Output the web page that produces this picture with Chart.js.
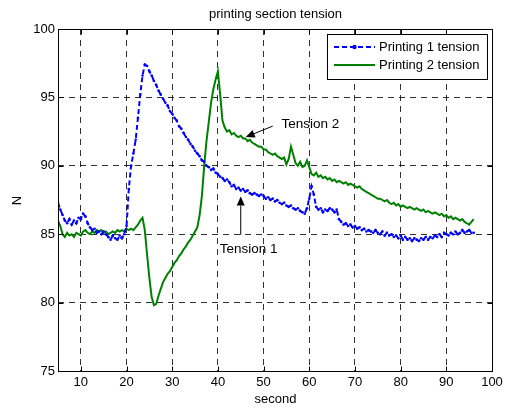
<!DOCTYPE html>
<html>
<head>
<meta charset="utf-8">
<script src="https://cdn.jsdelivr.net/npm/chart.js@4.4.1/dist/chart.umd.min.js"></script>
<style>
  html, body { margin: 0; padding: 0; background: #fff; }
  canvas { display: block; }
</style>
</head>
<body>
<canvas id="c" width="508" height="408"></canvas>
<script>
const FONT = '"Liberation Sans", Arial, sans-serif';

const chartTitle = 'printing section tension';
const xTitle = 'second';
const yTitle = 'N';
const seriesNames = ['Printing 1 tension', 'Printing 2 tension'];

const xTicks = [10, 20, 30, 40, 50, 60, 70, 80, 90, 100];
const yTicks = [75, 80, 85, 90, 95, 100];

const seconds = [
  5,5.5,6,6.5,7,7.5,8,8.5,9,9.5,
  10,10.5,11,11.5,12,12.5,13,13.5,14,14.5,
  15,15.5,16,16.5,17,17.5,18,18.5,19,19.5,
  20,20.5,21,21.5,22,22.5,23,23.5,24,24.5,
  25,25.5,26,26.5,27,27.5,28,28.5,29,29.5,
  30,30.5,31,31.5,32,32.5,33,33.5,34,34.5,
  35,35.5,36,36.5,37,37.5,38,38.5,39,39.5,
  40,40.5,41,41.5,42,42.5,43,43.5,44,44.5,
  45,45.5,46,46.5,47,47.5,48,48.5,49,49.5,
  50,50.5,51,51.5,52,52.5,53,53.5,54,54.5,
  55,55.5,56,56.5,57,57.5,58,58.5,59,59.5,
  60,60.5,61,61.5,62,62.5,63,63.5,64,64.5,
  65,65.5,66,66.5,67,67.5,68,68.5,69,69.5,
  70,70.5,71,71.5,72,72.5,73,73.5,74,74.5,
  75,75.5,76,76.5,77,77.5,78,78.5,79,79.5,
  80,80.5,81,81.5,82,82.5,83,83.5,84,84.5,
  85,85.5,86,86.5,87,87.5,88,88.5,89,89.5,
  90,90.5,91,91.5,92,92.5,93,93.5,94,94.5,
  95,95.5,96
];

const tension1 = [
  87.3,86.8,86.4,86.0,85.8,86.1,85.7,86.0,85.8,86.2,
  86.1,86.5,86.3,85.8,85.5,85.3,85.4,85.1,85.2,85.0,
  85.2,85.0,84.8,84.6,84.9,84.7,84.6,84.9,84.7,85.0,
  85.6,88.3,90.0,90.9,91.9,93.5,95.2,96.6,97.4,97.3,
  96.9,96.6,96.2,95.9,95.5,95.2,94.9,94.6,94.4,94.0,
  93.8,93.5,93.3,92.9,92.7,92.4,92.1,91.9,91.6,91.4,
  91.1,90.9,90.7,90.4,90.3,90.0,89.9,89.7,89.8,89.5,
  89.4,89.2,89.1,88.9,89.0,88.8,88.5,88.6,88.3,88.4,
  88.2,88.3,88.1,88.2,88.0,87.9,88.0,87.9,87.8,87.9,
  87.8,87.6,87.7,87.5,87.6,87.4,87.5,87.3,87.2,87.3,
  87.1,87.0,87.1,86.9,86.8,86.9,86.7,86.6,86.5,86.9,
  87.6,88.5,87.9,87.0,86.8,86.9,86.6,86.8,86.7,86.9,
  86.8,86.6,86.8,86.1,85.9,85.7,85.8,85.6,85.7,85.5,
  85.6,85.4,85.5,85.3,85.4,85.2,85.3,85.2,85.1,85.3,
  85.1,85.0,85.2,84.9,85.1,84.9,85.0,84.8,84.9,84.7,
  84.9,84.6,84.8,84.6,84.7,84.5,84.7,84.6,84.5,84.7,
  84.6,84.8,84.6,84.8,84.7,84.9,84.8,85.0,84.8,85.1,
  85.0,84.9,85.1,85.0,85.2,85.0,85.1,85.3,85.1,85.2,
  85.3,85.1,85.1
];

const tension2 = [
  86.0,85.6,85.0,84.8,85.1,84.9,85.0,84.8,85.1,85.0,
  84.9,85.2,85.3,85.1,85.0,85.2,85.1,85.3,85.2,85.3,
  85.1,85.2,85.0,85.1,85.2,85.1,85.3,85.2,85.3,85.2,
  85.4,85.3,85.4,85.3,85.5,85.7,86.0,86.2,85.3,83.5,
  81.8,80.4,79.8,79.9,80.5,81.0,81.5,81.8,82.1,82.3,
  82.6,82.9,83.1,83.4,83.6,83.9,84.1,84.4,84.6,84.9,
  85.2,85.5,86.4,87.8,90.0,91.8,93.2,94.6,95.6,96.3,
  96.9,95.2,93.3,92.8,92.5,92.6,92.3,92.4,92.2,92.1,
  92.2,92.0,92.0,91.8,91.9,91.7,91.6,91.5,91.4,91.4,
  91.2,91.2,91.0,90.9,90.8,90.9,90.7,90.6,90.5,90.6,
  90.1,90.5,91.4,90.8,90.2,90.0,90.3,89.9,90.0,90.4,
  89.9,89.4,89.3,89.5,89.2,89.3,89.1,89.2,89.0,89.1,
  88.9,89.0,88.8,88.9,88.8,88.7,88.8,88.6,88.7,88.6,
  88.5,88.4,88.5,88.3,88.2,88.1,88.0,87.9,87.8,87.7,
  87.6,87.6,87.5,87.4,87.5,87.3,87.2,87.3,87.1,87.2,
  87.0,87.1,87.0,86.9,87.0,86.9,86.8,86.9,86.8,86.7,
  86.8,86.6,86.7,86.6,86.5,86.6,86.5,86.4,86.5,86.3,
  86.4,86.2,86.3,86.1,86.2,86.1,86.0,86.1,85.9,85.8,
  85.7,85.9,86.1
];

// annotations: [label, textX, textY, arrowFromX, arrowFromY, arrowToX, arrowToY] (data units)
const annotations = [
  ['Tension 2', 53.9, 93.0, 52.0, 92.9, 46.1, 92.1],
  ['Tension 1', 40.4, 83.9, 45.0, 84.95, 45.0, 87.75]
];

const BLUE = '#0000ff';
const GREEN = '#008000';

function toPts(ys) { return seconds.map((s, i) => ({ x: s, y: ys[i] })); }

function arrow(ctx, x1, y1, x2, y2) {
  const ang = Math.atan2(y2 - y1, x2 - x1);
  const hl = 9, hw = 4;
  const bx = x2 - hl * Math.cos(ang), by = y2 - hl * Math.sin(ang);
  ctx.beginPath();
  ctx.moveTo(x1, y1);
  ctx.lineTo(bx, by);
  ctx.stroke();
  ctx.beginPath();
  ctx.moveTo(x2, y2);
  ctx.lineTo(bx + hw * Math.sin(ang), by - hw * Math.cos(ang));
  ctx.lineTo(bx - hw * Math.sin(ang), by + hw * Math.cos(ang));
  ctx.closePath();
  ctx.fill();
}

const decor = {
  id: 'decor',
  afterDraw(chart) {
    const ctx = chart.ctx, ca = chart.chartArea;
    const xs = chart.scales.x, ys = chart.scales.y;
    const L = Math.round(ca.left) + 0.5, R = Math.round(ca.right) + 0.5;
    const T = Math.round(ca.top) + 0.5, B = Math.round(ca.bottom) + 0.5;
    ctx.save();
    ctx.strokeStyle = '#000';
    ctx.fillStyle = '#000';
    ctx.lineWidth = 1;
    ctx.setLineDash([]);
    // inward ticks
    ctx.beginPath();
    xTicks.forEach(v => {
      const px = Math.round(xs.getPixelForValue(v)) + 0.5;
      ctx.moveTo(px, B); ctx.lineTo(px, B - 5);
      ctx.moveTo(px, T); ctx.lineTo(px, T + 5);
    });
    yTicks.forEach(v => {
      const py = Math.round(ys.getPixelForValue(v)) + 0.5;
      ctx.moveTo(L, py); ctx.lineTo(L + 5, py);
      ctx.moveTo(R, py); ctx.lineTo(R - 5, py);
    });
    ctx.stroke();
    // frame
    ctx.strokeRect(L, T, R - L, B - T);

    ctx.font = '13px ' + FONT;
    ctx.textBaseline = 'middle';
    // title
    ctx.textAlign = 'center';
    ctx.fillText(chartTitle, (L + R) / 2, 14);
    ctx.fillText(xTitle, (L + R) / 2, 399);
    ctx.save();
    ctx.translate(17, (T + B) / 2);
    ctx.rotate(-Math.PI / 2);
    ctx.fillText(yTitle, 0, 0);
    ctx.restore();

    // legend
    const lx = 327.5, ly = 34.5, lw = 160, lh = 45;
    ctx.fillStyle = '#fff';
    ctx.fillRect(lx, ly, lw, lh);
    ctx.strokeStyle = '#000';
    ctx.strokeRect(lx, ly, lw, lh);
    const rows = [47, 65];
    chart.data.datasets.forEach((ds, i) => {
      const y = rows[i];
      ctx.strokeStyle = ds.borderColor;
      ctx.lineWidth = 2;
      ctx.setLineDash(ds.borderDash || []);
      ctx.beginPath();
      ctx.moveTo(334, y); ctx.lineTo(375, y);
      ctx.stroke();
      ctx.setLineDash([]);
      if (ds.pointRadius > 0) {
        ctx.fillStyle = ds.borderColor;
        ctx.beginPath();
        ctx.arc(354.5, y, 2.2, 0, Math.PI * 2);
        ctx.fill();
      }
      ctx.fillStyle = '#000';
      ctx.textAlign = 'left';
      ctx.fillText(ds.label, 379, y);
    });

    // annotations
    ctx.lineWidth = 1;
    ctx.strokeStyle = '#000';
    ctx.fillStyle = '#000';
    ctx.font = '13.5px ' + FONT;
    ctx.textAlign = 'left';
    annotations.forEach(a => {
      ctx.fillText(a[0], xs.getPixelForValue(a[1]), ys.getPixelForValue(a[2]));
      arrow(ctx, xs.getPixelForValue(a[3]), ys.getPixelForValue(a[4]),
                 xs.getPixelForValue(a[5]), ys.getPixelForValue(a[6]));
    });
    ctx.restore();
  }
};

new Chart(document.getElementById('c'), {
  type: 'line',
  data: {
    datasets: [
      {
        label: seriesNames[0],
        data: toPts(tension1),
        borderColor: BLUE,
        backgroundColor: BLUE,
        borderWidth: 2,
        borderDash: [5, 3],
        pointRadius: 1.3,
        pointBorderWidth: 0,
        pointBackgroundColor: BLUE,
        tension: 0,
        fill: false
      },
      {
        label: seriesNames[1],
        data: toPts(tension2),
        borderColor: GREEN,
        backgroundColor: GREEN,
        borderWidth: 2,
        pointRadius: 0,
        tension: 0,
        fill: false
      }
    ]
  },
  options: {
    responsive: false,
    animation: false,
    layout: { padding: { top: 29, right: 16, left: 0, bottom: 0 } },
    plugins: { legend: { display: false }, title: { display: false }, tooltip: { enabled: false } },
    scales: {
      x: {
        type: 'linear',
        min: 5, max: 100,
        ticks: {
          stepSize: 10, includeBounds: false, color: '#000', padding: 4,
          maxRotation: 0, font: { family: FONT, size: 13 }
        },
        grid: { color: 'rgba(0,0,0,0.8)', lineWidth: 1, drawTicks: false },
        border: { display: false, dash: [6, 5] },
        afterFit(s) { s.height = 37; }
      },
      y: {
        min: 75, max: 100,
        ticks: {
          stepSize: 5, color: '#000', padding: 3,
          font: { family: FONT, size: 13 }
        },
        grid: { color: 'rgba(0,0,0,0.8)', lineWidth: 1, drawTicks: false },
        border: { display: false, dash: [6, 5] },
        afterFit(s) { s.width = 58; }
      }
    }
  },
  plugins: [decor]
});
</script>
</body>
</html>
